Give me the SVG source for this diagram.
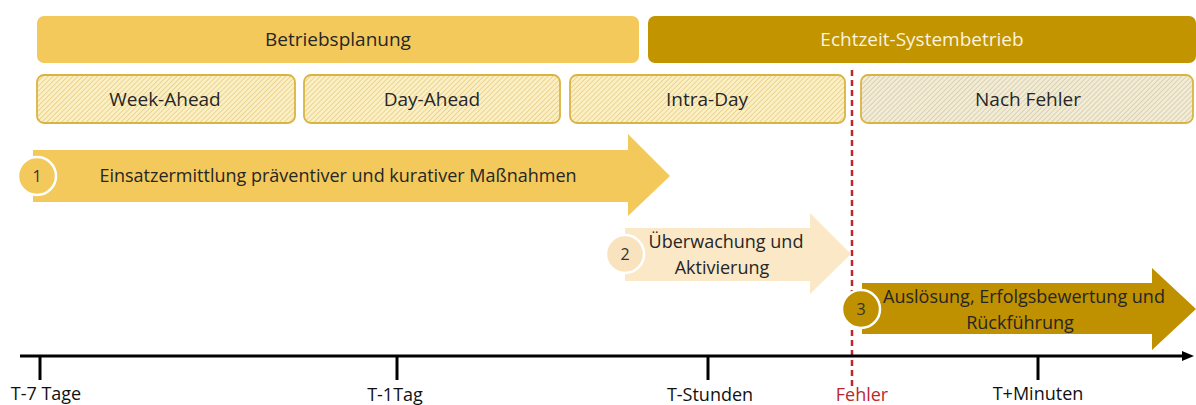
<svg xmlns="http://www.w3.org/2000/svg" width="1196" height="405" viewBox="0 0 1196 405">
<defs>
<pattern id="hatch" width="3.5" height="3.5" patternUnits="userSpaceOnUse" patternTransform="rotate(45)">
<rect width="3.5" height="3.5" fill="#FBEFC6"/>
<line x1="0" y1="0" x2="0" y2="3.5" stroke="#E6CA78" stroke-width="1.4"/>
</pattern>
<pattern id="hatch2" width="3.5" height="3.5" patternUnits="userSpaceOnUse" patternTransform="rotate(45)">
<rect width="3.5" height="3.5" fill="#F2ECD6"/>
<line x1="0" y1="0" x2="0" y2="3.5" stroke="#D2C7A4" stroke-width="1.4"/>
</pattern>
<marker id="axisHead" markerWidth="12" markerHeight="10" refX="2" refY="5" orient="auto" markerUnits="userSpaceOnUse">
<path d="M0,0 L12,5 L0,10 Z" fill="#000"/>
</marker>
</defs>
<style>
text{font-family:"Open Sans","Liberation Sans",sans-serif;}
.h{font-size:19px;fill:#262626;text-anchor:middle;}
.t{font-size:18px;fill:#262626;text-anchor:middle;}
.w{font-size:19px;fill:#FBF3DC;text-anchor:middle;}
.sub{fill:url(#hatch);stroke:#D9B443;stroke-width:1.8;}
.num{font-size:16px;fill:#333;text-anchor:middle;}
.ax{font-size:18px;fill:#111;text-anchor:middle;}
.tick{stroke:#000;stroke-width:3;}
</style>
<rect width="1196" height="405" fill="#fff"/>
<g id="betriebsplanung">
<rect x="37" y="16" width="602" height="47" rx="7" fill="#F3C95B"/>
<text class="h" x="338" y="46">Betriebsplanung</text>
</g>
<g id="echtzeit">
<rect x="648" y="16" width="548" height="47" rx="7" fill="#C29400"/>
<text class="w" x="922" y="46">Echtzeit-Systembetrieb</text>
</g>
<g id="week-ahead">
<rect class="sub" x="37" y="75" width="258" height="48" rx="7"/>
<text class="h" x="165" y="106">Week-Ahead</text>
</g>
<g id="day-ahead">
<rect class="sub" x="304" y="75" width="256" height="48" rx="7"/>
<text class="h" x="432" y="106">Day-Ahead</text>
</g>
<g id="intra-day">
<rect class="sub" x="570" y="75" width="275" height="48" rx="7"/>
<text class="h" x="707" y="106">Intra-Day</text>
</g>
<g id="nach-fehler">
<rect x="861" y="75" width="332" height="48" rx="7" fill="url(#hatch2)" stroke="#D9B443" stroke-width="1.8"/>
<text class="h" x="1028" y="106">Nach Fehler</text>
</g>
<g id="connectors">
<line x1="852" y1="70" x2="852" y2="387" stroke="#C0262C" stroke-width="2.5" stroke-dasharray="6,4"/>
<line x1="20" y1="356" x2="1184" y2="356" stroke="#000" stroke-width="3" marker-end="url(#axisHead)"/>
<line class="tick" x1="40" y1="356" x2="40" y2="380"/>
<line class="tick" x1="397" y1="356" x2="397" y2="380"/>
<line class="tick" x1="708" y1="356" x2="708" y2="380"/>
<line class="tick" x1="1038" y1="356" x2="1038" y2="380"/>
</g>
<g id="arrow1">
<path d="M33,150 H628 V134 L670,176 L628,216 V202 H33 Z" fill="#F3C95B"/>
<circle cx="37" cy="176" r="19" fill="#F3C95B" stroke="#fff" stroke-width="2.5"/>
<text class="num" x="37" y="182">1</text>
<text class="t" x="338" y="182">Einsatzermittlung präventiver und kurativer Maßnahmen</text>
</g>
<g id="arrow2">
<path d="M625,228 H810 V213 L851,254 L810,294 V281 H625 Z" fill="#FBE8C6"/>
<circle cx="625" cy="254" r="19" fill="#F9E3BE" stroke="#fff" stroke-width="2.5"/>
<text class="num" x="625" y="260">2</text>
<text class="t" x="726" y="248">Überwachung und</text>
<text class="t" x="722" y="274">Aktivierung</text>
</g>
<g id="arrow3">
<path d="M862,283 H1152 V268 L1196,309 L1152,350 V334 H862 Z" fill="#BF9000"/>
<circle cx="861" cy="309" r="19" fill="#BF9000" stroke="#fff" stroke-width="2.5"/>
<text class="num" x="861" y="315">3</text>
<text class="t" x="1024" y="303">Auslösung, Erfolgsbewertung und</text>
<text class="t" x="1020" y="329">Rückführung</text>
</g>
<g id="labels">
<text class="ax" x="46" y="400">T-7 Tage</text>
<text class="ax" x="395" y="401">T-1Tag</text>
<text class="ax" x="710" y="401">T-Stunden</text>
<text class="ax" x="862" y="401" style="fill:#C0262C">Fehler</text>
<text class="ax" x="1038" y="400">T+Minuten</text>
</g>
</svg>
